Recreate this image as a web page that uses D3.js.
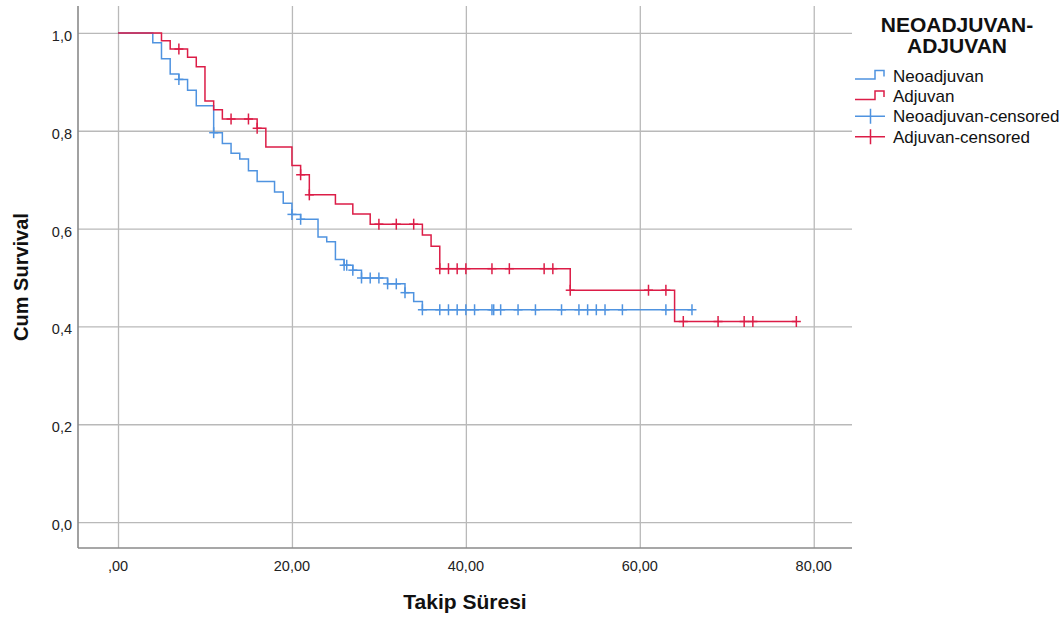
<!DOCTYPE html>
<html>
<head>
<meta charset="utf-8">
<script src="https://cdn.jsdelivr.net/npm/d3@7"></script>
<style>
  body { margin: 0; background: #fff; }
  text { font-family: "Liberation Sans", Arial, sans-serif; fill: #111; }
</style>
</head>
<body>
<div id="chart-area"></div>
<script>

// Kaplan-Meier steps: [time, cum survival after the step]
let neoSteps = [
	[0, 1.0], [4, 0.980], [5, 0.947], [6, 0.916], [7, 0.905], [8, 0.883], [9, 0.851],
	[11, 0.796], [12, 0.774], [13, 0.754], [14, 0.742], [15, 0.718], [16, 0.696],
	[18, 0.675], [19, 0.652], [20, 0.629], [21, 0.619], [23, 0.583], [24, 0.573],
	[25, 0.537], [26, 0.525], [27, 0.515], [28, 0.499], [31, 0.487], [33, 0.469],
	[34, 0.451], [35, 0.434]
];
let neoEnd = 66;
let neoCensored = [7, 11, 20, 21, 26, 26.3, 27, 28, 29, 30, 31, 32, 33, 35, 37, 38, 39, 40,
	41, 43, 43.2, 44, 46, 48, 51, 53, 54, 55, 56, 58, 63, 66];

let adjSteps = [
	[0, 1.0], [5, 0.984], [6, 0.967], [8, 0.950], [9, 0.931], [10, 0.861], [11, 0.843],
	[12, 0.824], [16, 0.805], [17, 0.767], [20, 0.729], [21, 0.710], [22, 0.669],
	[25, 0.650], [27, 0.630], [29, 0.609], [35, 0.587], [36, 0.564], [37, 0.518],
	[52, 0.474], [64, 0.410]
];
let adjEnd = 78;
let adjCensored = [7, 13, 15, 16, 21, 22, 30, 32, 34, 37, 38, 39, 40, 43, 45, 49, 50,
	52, 61, 63, 65, 69, 72, 73, 78];

// axes
let xTicks = [0, 20, 40, 60, 80];
let xTickLabels = [",00", "20,00", "40,00", "60,00", "80,00"];
let yTicks = [0, 0.2, 0.4, 0.6, 0.8, 1.0];
let yTickLabels = ["0,0", "0,2", "0,4", "0,6", "0,8", "1,0"];

let legendTitle = ["NEOADJUVAN-", "ADJUVAN"];
let legendNames = ["Neoadjuvan", "Adjuvan", "Neoadjuvan-censored", "Adjuvan-censored"];

let blue = "#4f93e0",
	red = "#dc1d47";

let width = 1064,
	height = 619;

let plot = {left: 78, right: 852, top: 6, bottom: 548};

let svg = d3.select("#chart-area").append("svg")
	.attr("width", width)
	.attr("height", height);

// scales
let x = d3.scaleLinear()
	.domain([-4.6, 84.4])
	.range([plot.left, plot.right]);

let y = d3.scaleLinear()
	.domain([-0.053, 1.055])
	.range([plot.bottom, plot.top]);

// grid lines
let xGrid = svg.append("g")
	.attr("transform", `translate(0, ${plot.bottom})`)
	.call(d3.axisBottom(x).tickValues(xTicks).tickSize(-(plot.bottom - plot.top)).tickFormat(""));

let yGrid = svg.append("g")
	.attr("transform", `translate(${plot.left}, 0)`)
	.call(d3.axisLeft(y).tickValues(yTicks).tickSize(-(plot.right - plot.left)).tickFormat(""));

svg.selectAll(".domain").remove();
svg.selectAll(".tick line")
	.attr("stroke", "#b9b9b9")
	.attr("stroke-width", 1.3);

// axis lines
svg.append("line")
	.attr("x1", plot.left).attr("x2", plot.right)
	.attr("y1", plot.bottom).attr("y2", plot.bottom)
	.attr("stroke", "#8a8a8a").attr("stroke-width", 1.6);

svg.append("line")
	.attr("x1", plot.left).attr("x2", plot.left)
	.attr("y1", plot.top).attr("y2", plot.bottom)
	.attr("stroke", "#8a8a8a").attr("stroke-width", 1.6);

// tick labels
svg.append("g").selectAll("text")
	.data(xTicks)
	.enter().append("text")
	.attr("x", d => x(d))
	.attr("y", 571)
	.attr("text-anchor", "middle")
	.style("font-size", "14.5px")
	.style("fill", "#222")
	.text((d, i) => xTickLabels[i]);

svg.append("g").selectAll("text")
	.data(yTicks)
	.enter().append("text")
	.attr("x", 72)
	.attr("y", d => y(d) + 8)
	.attr("text-anchor", "end")
	.style("font-size", "14.5px")
	.style("fill", "#222")
	.text((d, i) => yTickLabels[i]);

// axis titles
svg.append("text")
	.attr("x", (plot.left + plot.right) / 2)
	.attr("y", 608.5)
	.attr("text-anchor", "middle")
	.style("font-size", "21px")
	.style("font-weight", "bold")
	.text("Takip Süresi");

svg.append("text")
	.attr("transform", `translate(28, ${(plot.top + plot.bottom) / 2}) rotate(-90)`)
	.attr("text-anchor", "middle")
	.style("font-size", "20px")
	.style("font-weight", "bold")
	.text("Cum Survival");

// survival curves
let stepLine = d3.line()
	.x(d => x(d[0]))
	.y(d => y(d[1]))
	.curve(d3.curveStepAfter);

function survivalAt(steps, t) {
	let s = steps[0][1];
	steps.forEach(d => { if (d[0] <= t) s = d[1]; });
	return s;
}

function drawCurve(steps, end, censored, color) {
	let pts = steps.concat([[end, steps[steps.length - 1][1]]]);

	svg.append("path")
		.datum(pts)
		.attr("d", stepLine)
		.attr("fill", "none")
		.attr("stroke", color)
		.attr("stroke-width", 1.5);

	let marks = svg.append("g").selectAll("g")
		.data(censored)
		.enter().append("g")
		.attr("transform", d => `translate(${x(d)}, ${y(survivalAt(steps, d))})`);

	marks.append("line")
		.attr("x1", -4.5).attr("x2", 4.5)
		.attr("stroke", color).attr("stroke-width", 1.5);
	marks.append("line")
		.attr("y1", -5.5).attr("y2", 5.5)
		.attr("stroke", color).attr("stroke-width", 1.5);
}

drawCurve(neoSteps, neoEnd, neoCensored, blue);
drawCurve(adjSteps, adjEnd, adjCensored, red);

// legend
let legend = svg.append("g");

legend.selectAll(".legend-title")
	.data(legendTitle)
	.enter().append("text")
	.attr("class", "legend-title")
	.attr("x", 957)
	.attr("y", (d, i) => 31.5 + i * 21)
	.attr("text-anchor", "middle")
	.style("font-size", "21px")
	.style("font-weight", "bold")
	.text(d => d);

let legendColors = [blue, red, blue, red];

let rows = legend.selectAll(".legend-row")
	.data(legendNames)
	.enter().append("g")
	.attr("class", "legend-row")
	.attr("transform", (d, i) => `translate(855, ${75.5 + i * 20.4})`);

rows.append("text")
	.attr("x", 38)
	.attr("y", 6)
	.style("font-size", "17px")
	.text(d => d);

rows.filter((d, i) => i < 2).append("path")
	.attr("d", "M0,3.5H20V-5H29V1")
	.attr("fill", "none")
	.attr("stroke", (d, i) => legendColors[i])
	.attr("stroke-width", 1.5);

rows.filter((d, i) => i >= 2).append("path")
	.attr("d", "M0,0H30M15.5,-7.5V7.5")
	.attr("fill", "none")
	.attr("stroke", (d, i) => legendColors[i + 2])
	.attr("stroke-width", 1.5);

</script>
</body>
</html>
